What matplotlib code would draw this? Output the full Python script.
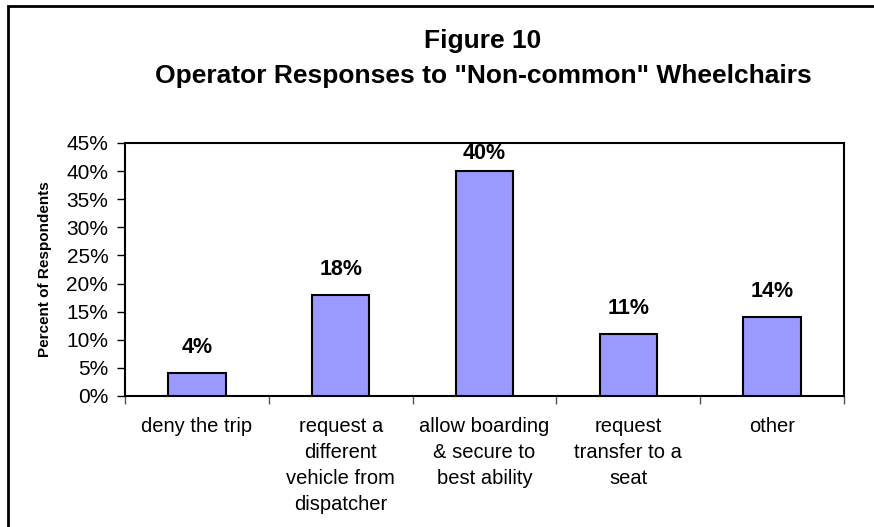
import matplotlib
matplotlib.use("Agg")
import matplotlib.pyplot as plt
from matplotlib.patches import Rectangle

categories = ["deny the trip",
              "request a\ndifferent\nvehicle from\ndispatcher",
              "allow boarding\n& secure to\nbest ability",
              "request\ntransfer to a\nseat",
              "other"]
values = [4, 18, 40, 11, 14]
yticks = [0, 5, 10, 15, 20, 25, 30, 35, 40, 45]

plt.rcParams['font.family'] = ['Liberation Sans', 'DejaVu Sans']

fig = plt.figure(figsize=(8.74, 5.27), dpi=100)
ax = fig.add_axes([0.143, 0.2486, 0.8227, 0.4801])

x = list(range(len(categories)))
ax.bar(x, values, width=0.4, color='#9999FF', edgecolor='black', linewidth=1.5, zorder=3)

for xi, v in zip(x, values):
    # the tallest label is pushed down to stay inside the plot area
    off = 11 if v < 38 else 5
    ax.annotate(f"{v}%", (xi, v), xytext=(0, off), textcoords='offset points',
                ha='center', va='bottom', fontsize=15.5, fontweight='bold')

ax.set_xlim(-0.5, len(categories) - 0.5)
ax.set_ylim(0, 45)
ax.set_yticks(yticks)
ax.set_yticklabels([f"{t}%" for t in yticks], fontsize=15)

# labels centred under bars, ticks at category boundaries
ax.set_xticks(x)
ax.set_xticklabels(categories, fontsize=14.5, linespacing=1.48, va='top')
ax.tick_params(axis='x', length=0, pad=15)
ax.set_xticks([i - 0.5 for i in range(len(categories) + 1)], minor=True)
ax.tick_params(axis='x', which='minor', length=6, width=1.0, color='#555555')
ax.tick_params(axis='y', length=6, width=1.0, pad=6)

for s in ax.spines.values():
    s.set_linewidth(1.5)

ax.set_ylabel("Percent of Respondents", fontsize=11, fontweight='bold', labelpad=10)

fig.text(0.5526, 0.909, "Figure 10", ha='center', va='baseline', fontsize=19, fontweight='bold')
fig.text(0.5526, 0.8425, "Operator Responses to \"Non-common\" Wheelchairs", ha='center', va='baseline',
         fontsize=19, fontweight='bold')

# outer frame (right and bottom edges run off the picture)
fig.patches.append(Rectangle((8 / 874, -0.05), 1.0, (527 - 6) / 527 + 0.05,
                             transform=fig.transFigure, fill=False, edgecolor='black', linewidth=2))

fig.savefig("out.png", dpi=100)
